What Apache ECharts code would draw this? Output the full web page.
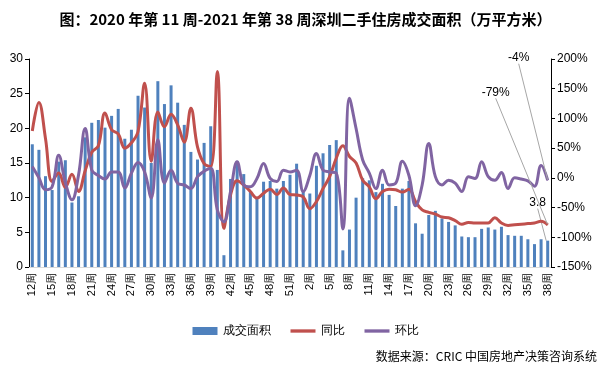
<!DOCTYPE html>
<html>
<head>
<meta charset="utf-8">
<script src="https://cdn.jsdelivr.net/npm/echarts@6/dist/echarts.min.js"></script>
<style>
  html, body { margin: 0; padding: 0; background: #fff; }
  #chart { width: 611px; height: 376px; }
</style>
</head>
<body>
<div id="chart"></div>
<script>
// 2020 第12周 ~ 2021 第38周
var weeks = [];
for (var w = 12; w <= 52; w++) weeks.push(w + "周");
for (var w2 = 1; w2 <= 38; w2++) weeks.push(w2 + "周");

// 成交面积（万平方米）
var area = [
  17.7, 16.9, 13.1, 11.1, 15.2, 15.4, 9.3, 10.2, 18.7, 20.8,
  21.2, 20.1, 21.8, 22.8, 18.5, 19.8, 24.7, 23.0, 15.0, 26.8,
  23.5, 26.2, 23.7, 20.5, 16.6, 15.5, 17.9, 20.3, 14.0, 1.7,
  12.7, 15.3, 13.4, 10.9, 10.0, 12.3, 12.4, 11.3, 12.4, 13.3,
  14.9, 10.9, 10.6, 14.6, 16.4, 17.6, 18.3, 2.4, 5.4, 10.0,
  12.8, 12.5, 10.8, 12.0, 10.4, 8.8, 11.3, 12.4, 6.3, 4.8,
  7.5, 8.1, 7.0, 6.5, 6.0, 4.4, 4.3, 4.3, 5.5, 5.7,
  5.4, 5.8, 4.6, 4.5, 4.5, 4.0, 3.3, 4.0, 3.8
];

// 同比（%）
var yoy = [
  79, 127, 66, -6, 8, -16, 6, -23, 12, 43,
  54, 109, 81, 74, 50, 59, 78, 159, 28, 111,
  86, 107, 89, 60, 117, 52, 24, 19, 179, -85,
  -29, -5, -12, -23, -34, -26, -19, -28, -17, -28,
  -29, -32, -52, -40, -18, 2, 33, 54, 36, 25,
  -4, -15, -35, -23, -19, -20, -24, -19, -40, -54,
  -58, -61, -66, -67, -72, -78, -75, -76, -76, -76,
  -67, -76, -80, -79, -78, -77, -76, -73, -79
];

// 环比（%）
var mom = [
  19, 0, -20, -15, 38, -8, -37, 5, 83, 13,
  4, -2, 10, 10, -17, 8, 26, 10, -34, 64,
  -9, 13, -9, -12, -18, 2, 11, 16, -54, -74,
  -23, 27, -12, -15, -1, 24, -1, -6, 13, 10,
  13, -23, 4, 41, 13, 10, 8, -86, 134, 83,
  30, 8, -18, 13, -12, -9, 28, 4, -47, -12,
  58, 2, -12, -4, -9, -23, 2, -1, 27, 2,
  -4, 9, -18, 0, -2, -5, -14, 21, -4
];

var last = weeks.length - 1;
var chart = echarts.init(document.getElementById("chart"));

function lastLabel(arr, suffix) {
  return arr.map(function (v, i) {
    if (i !== last) return v;
    return {
      value: v,
      symbol: "circle",
      symbolSize: 1,
      label: {
        show: true,
        position: "top",
        formatter: "{c}" + suffix,
        color: "#000",
        fontSize: 12
      },
      labelLine: { show: true, lineStyle: { color: "#a6a6a6", width: 1 } }
    };
  });
}

function moveLast(dx, dy) {
  return function (params) {
    if (params.dataIndex === last) return { dx: dx, dy: dy };
  };
}

var lineIcon = "path://M0,0 H30 V4 H0 Z";

var option = {
  animation: false,
  title: [
    {
      text: "图：2020 年第 11 周-2021 年第 38 周深圳二手住房成交面积（万平方米）",
      left: "center",
      top: 7,
      textStyle: { fontSize: 15, fontWeight: "bold", color: "#000", fontFamily: "Noto Sans CJK SC" }
    },
    {
      text: "数据来源：CRIC 中国房地产决策咨询系统",
      right: 9,
      bottom: 9,
      textStyle: { fontSize: 12, fontWeight: "normal", color: "#000", fontFamily: "Noto Sans CJK SC" }
    }
  ],
  legend: {
    top: 320,
    left: "center",
    itemGap: 20,
    itemWidth: 25,
    itemHeight: 8,
    textStyle: { fontSize: 12, color: "#000" },
    data: [
      { name: "成交面积", icon: "rect" },
      { name: "同比", icon: lineIcon },
      { name: "环比", icon: lineIcon }
    ]
  },
  grid: { left: 29, right: 60, top: 59, bottom: 109 },
  xAxis: {
    type: "category",
    data: weeks,
    axisLine: { lineStyle: { color: "#d9d9d9" } },
    axisTick: { show: false },
    axisLabel: { interval: 2, rotate: 90, fontSize: 11, color: "#000", margin: 6 }
  },
  yAxis: [
    {
      type: "value",
      min: 0,
      max: 30,
      interval: 5,
      splitLine: { show: false },
      axisLine: { show: true, lineStyle: { color: "#000" } },
      axisTick: { show: true, length: 4 },
      axisLabel: { fontSize: 12, color: "#000", margin: 6 }
    },
    {
      type: "value",
      min: -150,
      max: 200,
      interval: 50,
      splitLine: { show: false },
      axisLine: { show: true, lineStyle: { color: "#000" } },
      axisTick: { show: true, length: 4 },
      axisLabel: { fontSize: 12, color: "#000", formatter: "{value}%", margin: 6 }
    }
  ],
  series: [
    {
      name: "成交面积",
      type: "bar",
      barWidth: 3,
      itemStyle: { color: "#4f81bd" },
      data: area.map(function (v, i) {
        if (i !== last) return v;
        return {
          value: v,
          label: { show: true, position: "top", color: "#000", fontSize: 12 },
          labelLine: { show: true, lineStyle: { color: "#a6a6a6", width: 1 } }
        };
      }),
      labelLayout: moveLast(-10, -27)
    },
    {
      name: "同比",
      type: "line",
      yAxisIndex: 1,
      smooth: 0.4,
      symbol: "none",
      color: "#c0504d",
      lineStyle: { width: 3 },
      data: lastLabel(yoy, "%"),
      labelLayout: moveLast(-52, -121)
    },
    {
      name: "环比",
      type: "line",
      yAxisIndex: 1,
      smooth: 0.4,
      symbol: "none",
      color: "#8064a2",
      lineStyle: { width: 3 },
      data: lastLabel(mom, "%"),
      labelLayout: moveLast(-29, -111)
    }
  ]
};

chart.setOption(option);
</script>
</body>
</html>
